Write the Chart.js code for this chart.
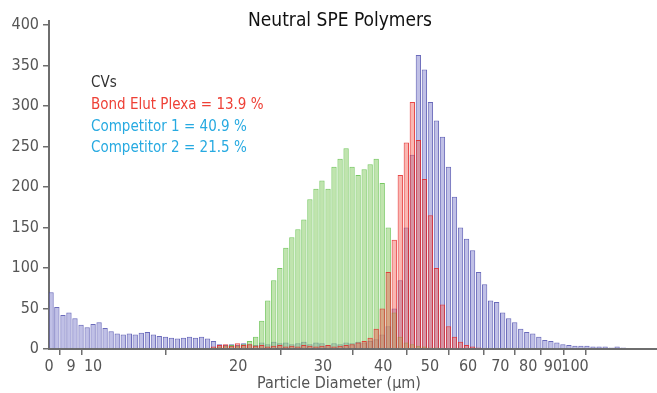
<!DOCTYPE html>
<html><head><meta charset="utf-8">
<script src="https://cdn.jsdelivr.net/npm/chart.js@4.4.0/dist/chart.umd.min.js"></script>
<style>html,body{margin:0;padding:0;background:#fff;overflow:hidden}#wrap{width:657px;height:393px;position:relative}</style>
</head><body><div id="wrap"><canvas id="c" width="657" height="393"></canvas></div>
<script>
// Bin centre diameters (µm)
const diameters = [8.18,8.41,8.66,8.91,9.17,9.44,9.72,10.0,
10.29,10.59,10.90,11.22,11.55,11.89,12.23,12.59,12.96,13.34,
13.72,14.13,14.54,14.96,15.40,15.85,16.31,16.79,17.28,17.78,
18.30,18.84,19.39,19.95,20.54,21.13,21.75,22.39,23.04,23.71,
24.41,25.12,25.85,26.61,27.38,28.18,29.01,29.85,30.73,31.62,
32.55,33.50,34.47,35.48,36.52,37.58,38.68,39.81,40.97,42.17,
43.40,44.67,45.97,47.32,48.70,50.12,51.58,53.09,54.64,56.23,
57.88,59.57,61.31,63.10,64.94,66.83,68.79,70.79,72.86,74.99,
77.18,79.43,81.75,84.14,86.60,89.13,91.73,94.41,97.16,
100.0,102.9,105.9,109.0,112.2,115.5,118.9,122.3,125.9,129.6,133.4,137.2,141.3,145.4];

// Counts per bin
const competitor1 = [70,52,42,45,38,30,27,
31,33,26,22,19,18,19,18,20,21,18,16,15,14,13,14,15,14,15,13,10,6,5,6,
5,7,6,5,8,6,9,7,8,6,7,9,6,8,7,5,7,6,8,7,9,8,10,
12,18,28,50,85,150,240,363,345,305,282,262,225,188,150,136,122,95,80,60,58,45,38,33,25,21,19,15,11,10,8,6,5,
4,4,4,3,3,3,2,3,2,1,1,1,0,0];
const plexa = [0,0,0,0,0,0,0,
0,0,0,0,0,0,0,0,0,0,0,0,0,0,0,0,0,0,0,0,3,5,6,4,
7,5,6,4,5,3,4,5,3,4,3,5,4,3,4,5,3,4,5,6,8,10,14,
25,50,95,135,215,255,305,258,210,165,100,55,28,15,9,5,3,2,1,0,0,0,0,0,0,0,0,0,0,0,0,0,0,
0,0,0,0,0,0,0,0,0,0,0,0,0,0];
const competitor2 = [0,0,0,0,0,0,0,
0,0,0,0,0,0,0,0,0,0,0,0,0,0,0,0,0,0,0,0,2,3,4,5,
4,6,10,15,35,60,85,100,125,138,148,160,185,198,208,198,225,235,248,225,215,222,228,
235,205,150,45,15,8,6,4,3,2,2,1,0,0,0,0,0,0,0,0,0,0,0,0,0,0,0,0,0,0,0,0,0,
0,0,0,0,0,0,0,0,0,0,0,0,0,0];

const yTicks = [0,50,100,150,200,250,300,350,400];
const xTickValues = [8.1,9,10,20,30,40,50,60,70,80,90,100];
const xTickLabels = ["0","9","10","20","30","40","50","60","70","80","90","100"];

const chartTitle = "Neutral SPE Polymers";
const xTitle = "Particle Diameter (µm)";
const cvLines = ["CVs","Bond Elut Plexa = 13.9 %","Competitor 1 = 40.9 %","Competitor 2 = 21.5 %"];
const cvColors = ["#333333","#ee4036","#27aae1","#27aae1"];

const FONT = "'Liberation Sans Narrow','Arial Narrow','DejaVu Sans Condensed',sans-serif";
const AXIS = "#6e6e6e";

const pts = arr => diameters.map((d,i)=>({x:d,y:arr[i]}));

const textPlugin = {
  id:'texts',
  afterDraw(chart){
    const ctx = chart.ctx;
    ctx.save();
    ctx.textBaseline = 'middle';
    ctx.textAlign = 'center';
    ctx.fillStyle = '#111';
    ctx.font = "19px " + FONT;
    ctx.fillText(chartTitle, 340, 21);
    ctx.fillStyle = '#555';
    ctx.font = "16px " + FONT;
    ctx.fillText(xTitle, 339, 384);
    ctx.textAlign = 'left';
    ctx.font = "15px " + FONT;
    const ys = [83,105,127,148];
    cvLines.forEach((t,i)=>{ ctx.fillStyle = cvColors[i]; ctx.fillText(t, 91, ys[i]); });
    ctx.restore();
  }
};

new Chart(document.getElementById('c'), {
  type:'bar',
  data:{
    datasets:[
      {label:'Bond Elut Plexa', data:pts(plexa), backgroundColor:'rgba(242,95,85,0.45)', borderColor:'rgba(228,40,40,0.85)', borderWidth:1, grouped:false, barPercentage:0.92, categoryPercentage:1},
      {label:'Competitor 2', data:pts(competitor2), backgroundColor:'rgba(150,210,120,0.6)', borderColor:'rgba(95,190,70,0.85)', borderWidth:1, grouped:false, barPercentage:0.92, categoryPercentage:1},
      {label:'Competitor 1', data:pts(competitor1), backgroundColor:'rgba(130,130,205,0.5)', borderColor:'rgba(70,70,170,0.8)', borderWidth:1, grouped:false, barPercentage:0.92, categoryPercentage:1}
    ]
  },
  options:{
    responsive:false, animation:false, devicePixelRatio:1,
    layout:{padding:{top:21,right:0,left:0,bottom:0}},
    plugins:{legend:{display:false}, tooltip:{enabled:false}, title:{display:false}},
    scales:{
      x:{type:'logarithmic', min:8.1, max:148, position:'bottom',
        afterBuildTicks:s=>{ s.ticks = xTickValues.map(v=>({value:v})); },
        afterFit:s=>{ s.height = 44; },
        ticks:{autoSkip:false, maxRotation:0, color:'#555', padding:2, font:{family:FONT,size:16}, callback:(v,i)=>xTickLabels[i]},
        grid:{drawOnChartArea:false, tickLength:6, color:AXIS, lineWidth:1.5},
        border:{display:true, color:AXIS, width:2},
        title:{display:false}
      },
      y:{type:'linear', min:0, max:405,
        afterBuildTicks:s=>{ s.ticks = yTicks.map(v=>({value:v})); },
        afterFit:s=>{ s.width = 49; },
        ticks:{color:'#555', padding:4, font:{family:FONT,size:16}},
        grid:{drawOnChartArea:false, tickLength:6, color:AXIS, lineWidth:1.5},
        border:{display:true, color:AXIS, width:2}
      }
    }
  },
  plugins:[textPlugin]
});
</script></body></html>
